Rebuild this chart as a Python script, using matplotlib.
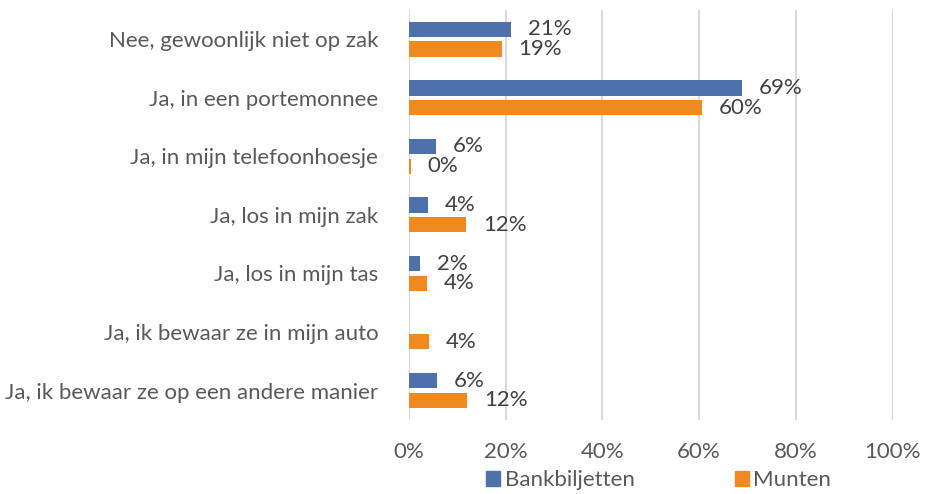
import matplotlib.pyplot as plt
import numpy as np

categories = [
    'Nee, gewoonlijk niet op zak',
    'Ja, in een portemonnee',
    'Ja, in mijn telefoonhoesje',
    'Ja, los in mijn zak',
    'Ja, los in mijn tas',
    'Ja, ik bewaar ze in mijn auto',
    'Ja, ik bewaar ze op een andere manier',
]
bankbiljetten = [21.1, 68.8, 5.6, 3.9, 2.3, None, 5.8]
bank_labels = ['21%', '69%', '6%', '4%', '2%', None, '6%']
munten = [19.2, 60.5, 0.4, 11.8, 3.7, 4.1, 12.0]
munten_labels = ['19%', '60%', '0%', '12%', '4%', '4%', '12%']

plt.rcParams['font.family'] = ['Lato', 'DejaVu Sans']
text_color = '#595959'
blue = '#4F71AB'
orange = '#EE8A20'
fs = 16

fig = plt.figure(figsize=(9.25, 4.94), dpi=100)
ax = fig.add_axes([0.442, 0.15, 0.523, 0.83])

y = np.arange(len(categories))
h = 0.26
off = 0.168

for i in range(len(categories)):
    if bankbiljetten[i] is not None:
        ax.barh(y[i] - off, bankbiljetten[i], height=h, color=blue, zorder=3)
        ax.text(bankbiljetten[i] + 3.5, y[i] - off, bank_labels[i], va='center',
                ha='left', fontsize=fs, color='#404040')
    ax.barh(y[i] + off, munten[i], height=h, color=orange, zorder=3)
    ax.text(munten[i] + 3.5, y[i] + off, munten_labels[i], va='center',
            ha='left', fontsize=fs, color='#404040')

ax.set_ylim(len(categories) - 0.5, -0.5)
ax.set_xlim(0, 100)
ax.set_yticks(y)
ax.set_yticklabels(categories, fontsize=fs, color=text_color)
ax.set_xticks([0, 20, 40, 60, 80, 100])
ax.set_xticklabels(['0%', '20%', '40%', '60%', '80%', '100%'], fontsize=fs, color=text_color)
ax.tick_params(axis='both', length=0)
ax.tick_params(axis='y', pad=22)
ax.tick_params(axis='x', pad=16)
ax.grid(axis='x', color='#D9D9D9', linewidth=1.5, zorder=0)
for s in ax.spines.values():
    s.set_visible(False)

handles = [plt.Rectangle((0, 0), 1, 1, color=blue), plt.Rectangle((0, 0), 1, 1, color=orange)]
fig.legend(handles, ['Bankbiljetten', 'Munten'], loc='center', bbox_to_anchor=(0.712, 0.028),
           ncol=2, frameon=False, fontsize=fs, handlelength=0.65, handleheight=0.65,
           handletextpad=0.2, columnspacing=4.5, labelcolor=text_color)

fig.savefig('out.png', dpi=100)
